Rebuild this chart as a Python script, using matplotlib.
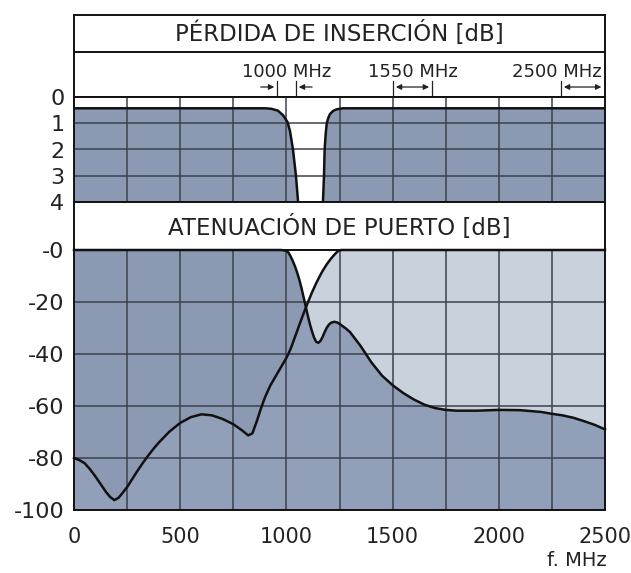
import numpy as np
import matplotlib
matplotlib.use("Agg")
import matplotlib.pyplot as plt

# --- datos ---
# perdida de insercion [dB] (0 arriba, 4 abajo)
il_freq = [0, 900, 930, 960, 985, 1005, 1017, 1025, 1031, 1038, 1045, 1050, 1055, 1060,
           1165, 1172, 1177, 1180, 1185, 1190, 1197, 1205, 1220, 1236, 1266, 2500]
il_db = [0.43, 0.43, 0.45, 0.52, 0.7, 0.95, 1.3, 1.7, 2.0, 2.5, 3.0, 3.5, 4.0, 4.6,
         4.6, 4.0, 3.0, 2.0, 1.4, 1.0, 0.8, 0.65, 0.53, 0.47, 0.43, 0.43]

# atenuacion de puerto [dB]
freq = [0, 25, 50, 75, 100, 125, 150, 170, 190, 210,
        230, 250, 275, 300, 325, 350, 375, 400, 450, 500,
        550, 600, 650, 700, 750, 790, 820, 840, 860, 880,
        900, 925, 950, 975, 1000, 1010, 1020, 1030, 1040, 1050,
        1060, 1070, 1080, 1090, 1100, 1110, 1120, 1130, 1140, 1150,
        1160, 1170, 1180, 1190, 1200, 1210, 1225, 1240, 1250, 1260,
        1280, 1300, 1350, 1400, 1450, 1500, 1550, 1600, 1650, 1700,
        1750, 1800, 1900, 2000, 2100, 2200, 2250, 2300, 2350, 2400,
        2450, 2500]
port_a = [-80, -80.8, -82, -84.3, -87, -90, -93, -95, -96.2, -95.3,
          -93.3, -91.2, -88, -84.8, -81.8, -79, -76.4, -74, -69.8, -66.5,
          -64.3, -63.2, -63.6, -65, -67, -69.3, -71.3, -70.5, -66, -61,
          -56.5, -52, -48.5, -45, -41.5, -39.8, -38, -35.8, -33.5, -31.3,
          -29, -26.8, -24.6, -22.5, -20.4, -18.4, -16.4, -14.6, -12.8, -11.2,
          -9.6, -8.1, -6.8, -5.5, -4.4, -3.3, -1.9, -0.6, -0.1, 0] + [0] * 22
port_b = [0] * 34 + [
          -0.3, -1.0, -2.5, -4.2, -6.2, -8.5,
          -11.2, -14.3, -17.8, -21.4, -25, -28.3, -31.2, -33.6, -35.3, -35.7,
          -35, -33.5, -31.6, -29.9, -28.7, -28, -27.6, -27.9, -28.4, -29,
          -30.2, -31.6, -37, -43.2, -48.3, -52, -55, -57.5, -59.5, -60.8,
          -61.5, -61.8, -61.8, -61.5, -61.6, -62.3, -63, -63.6, -64.5, -65.8,
          -67.2, -69]

# bandas marcadas en la cabecera
band_labels = ["1000 MHz", "1550 MHz", "2500 MHz"]
band_label_x = [1000, 1596, 2274]
band_edges = [(956, 1045), (1502, 1685), (2293, 2500)]

il_ticks = [0, 1, 2, 3, 4]
pa_ticks = [0, -20, -40, -60, -80, -100]
pa_ticklabels = ["-0", "-20", "-40", "-60", "-80", "-100"]
x_ticks = [0, 500, 1000, 1500, 2000, 2500]

W, H = 631, 573
fig = plt.figure(figsize=(W / 100, H / 100), dpi=100)
plt.rcParams['font.family'] = ['DejaVu Sans']
TXT = "#222222"
GRID = "#3c414c"
DARK = "#8b99b2"
MID = "#929fb8"
LIGHT = "#c9d1dd"
X0, X1 = 74, 605


def add(y_top, y_bot):
    return fig.add_axes([X0 / W, 1 - y_bot / H, (X1 - X0) / W, (y_bot - y_top) / H])


def frame(ax):
    for s in ax.spines.values():
        s.set_linewidth(1.4)
        s.set_color("#111111")


# cabecera
ax_h = add(15, 97)
ax_h.set_xlim(0, 2500)
ax_h.set_ylim(97, 15)
ax_h.set_xticks([])
ax_h.set_yticks([])
frame(ax_h)
ax_h.axhline(52, color="#111111", lw=1.4)
ax_h.text(1250, 34, "PÉRDIDA DE INSERCIÓN [dB]", ha="center", va="center",
          fontsize=16.5, color=TXT)
for lab, lx in zip(band_labels, band_label_x):
    ax_h.text(lx, 72, lab, ha="center", va="center", fontsize=13, color=TXT)
arr = dict(color="#222222", lw=0.9, mutation_scale=8)
(a0, a1), (b0, b1), (c0, c1) = band_edges
for e in (a0, a1, b0, b1, c0):
    ax_h.plot([e, e], [81, 97], color="#222222", lw=0.9)
ax_h.annotate("", xy=(a0, 87), xytext=(866, 87), arrowprops=dict(arrowstyle="-|>", **arr))
ax_h.annotate("", xy=(a1, 87), xytext=(1134, 87), arrowprops=dict(arrowstyle="-|>", **arr))
ax_h.annotate("", xy=(b0, 87), xytext=(b1, 87), arrowprops=dict(arrowstyle="<|-|>", **arr))
ax_h.annotate("", xy=(c0, 87), xytext=(c1 - 4, 87), arrowprops=dict(arrowstyle="<|-|>", **arr))

# perdida de insercion
ax_il = add(97, 202)
ax_il.set_xlim(0, 2500)
ax_il.set_ylim(4, 0)
ax_il.fill_between(il_freq, il_db, 4, color=DARK, lw=0, zorder=1)
ax_il.plot(il_freq, il_db, color="#111111", lw=1.8, zorder=3)
for v in range(250, 2500, 250):
    ax_il.axvline(v, color=GRID, lw=1.1, zorder=2)
for v in [1, 2, 3]:
    ax_il.axhline(v, color=GRID, lw=1.1, zorder=2)
ax_il.set_xticks([])
ax_il.set_yticks(il_ticks)
ax_il.set_yticklabels([str(t) for t in il_ticks])
ax_il.tick_params(axis="y", length=0, pad=7, labelsize=16, labelcolor=TXT)
frame(ax_il)

# segundo titulo
ax_t = add(202, 250)
ax_t.set_xlim(0, 2500)
ax_t.set_ylim(250, 202)
ax_t.set_xticks([])
ax_t.set_yticks([])
frame(ax_t)
ax_t.text(1250, 227, "ATENUACIÓN DE PUERTO [dB]", ha="center", va="center",
          fontsize=16.5, color=TXT)

# atenuacion de puerto
ax_p = add(250, 510)
ax_p.set_xlim(0, 2500)
ax_p.set_ylim(-100, 0)
a = np.array(port_a)
b = np.array(port_b)
ax_p.fill_between(freq, -100, np.minimum(a, b), color=MID, lw=0, zorder=1)
ax_p.fill_between(freq, a, b, where=b >= a, interpolate=True, color=DARK, lw=0, zorder=1)
ax_p.fill_between(freq, b, a, where=a >= b, interpolate=True, color=LIGHT, lw=0, zorder=1)
for v in range(250, 2500, 250):
    ax_p.axvline(v, color=GRID, lw=1.1, zorder=2)
for v in [-20, -40, -60, -80]:
    ax_p.axhline(v, color=GRID, lw=1.1, zorder=2)
ax_p.plot(freq, port_a, color="#111111", lw=1.8, zorder=3, clip_on=False)
ax_p.plot(freq, port_b, color="#111111", lw=1.8, zorder=3, clip_on=False)
ax_p.set_yticks(pa_ticks)
ax_p.set_yticklabels(pa_ticklabels)
ax_p.set_xticks(x_ticks)
ax_p.set_xticklabels([str(t) for t in x_ticks])
ax_p.tick_params(axis="y", length=0, pad=7, labelsize=16, labelcolor=TXT)
ax_p.tick_params(axis="x", length=0, pad=12, labelsize=15, labelcolor=TXT)
frame(ax_p)
fig.text(607 / W, 1 - 561 / H, "f. MHz", ha="right", va="center", fontsize=14, color=TXT)

fig.savefig("out.png", dpi=100)
